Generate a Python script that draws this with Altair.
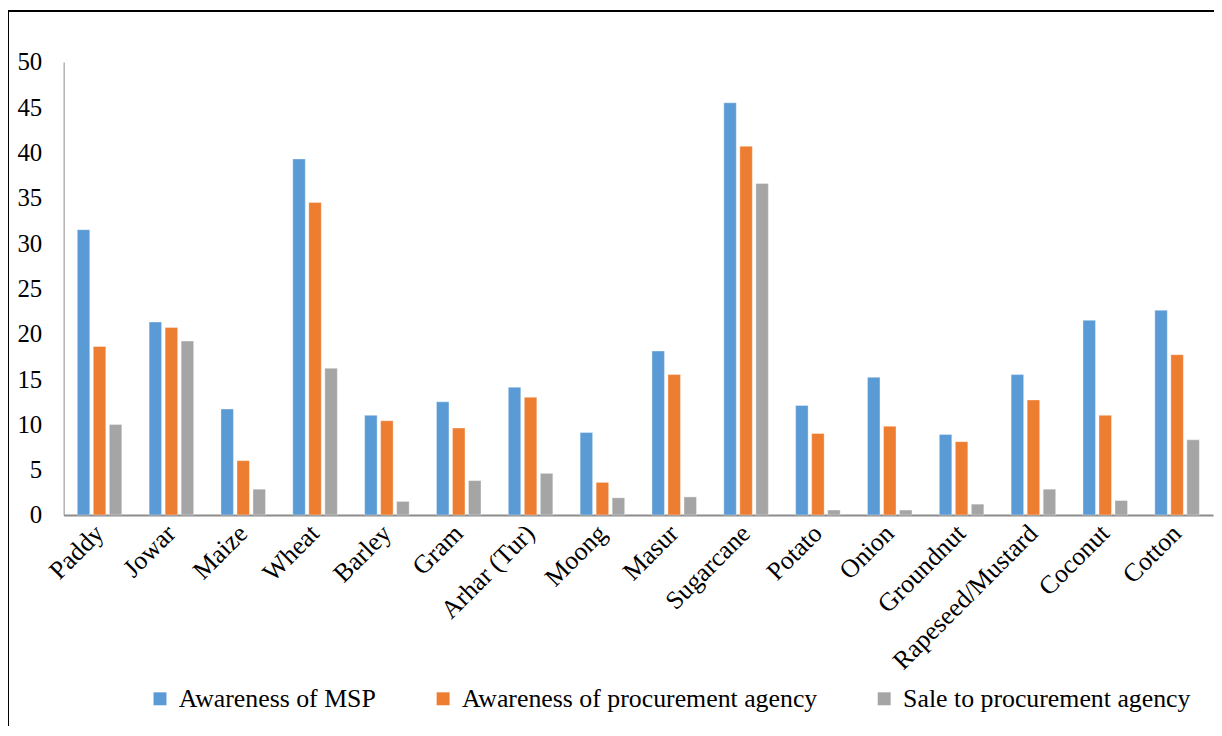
import altair as alt
import pandas as pd

crops = ["Paddy", "Jowar", "Maize", "Wheat", "Barley", "Gram", "Arhar (Tur)", "Moong",
         "Masur", "Sugarcane", "Potato", "Onion", "Groundnut", "Rapeseed/Mustard",
         "Coconut", "Cotton"]
series = ["Awareness of MSP", "Awareness of procurement agency", "Sale to procurement agency"]
msp = [31.5, 21.3, 11.7, 39.3, 11.0, 12.5, 14.1, 9.1, 18.1, 45.5, 12.1, 15.2, 8.9, 15.5, 21.5, 22.6]
agency = [18.6, 20.7, 6.0, 34.5, 10.4, 9.6, 13.0, 3.6, 15.5, 40.7, 9.0, 9.8, 8.1, 12.7, 11.0, 17.7]
sale = [10.0, 19.2, 2.85, 16.2, 1.5, 3.8, 4.6, 1.9, 2.0, 36.6, 0.55, 0.55, 1.2, 2.85, 1.6, 8.3]
colors = ["#5B9BD5", "#ED7D31", "#A5A5A5"]

rows = []
for s, vals in zip(series, [msp, agency, sale]):
    for c, v in zip(crops, vals):
        rows.append({"crop": c, "series": s, "value": v})
df = pd.DataFrame(rows)

FONT = "Liberation Serif"

bars = alt.Chart(df).mark_bar(stroke="white", strokeWidth=0.6, strokeOpacity=0.6).encode(
    x=alt.X("crop:N", sort=crops, title=None,
            scale=alt.Scale(paddingInner=0.38, paddingOuter=0.19),
            axis=alt.Axis(labelAngle=-45, labelAlign="right", labelBaseline="middle",
                          labelFontSize=26, labelFont=FONT, labelColor="#000",
                          labelLimit=400,
                          ticks=False, domainColor="#8c8c8c", domainWidth=2,
                          labelPadding=14)),
    xOffset=alt.XOffset("series:N", sort=series, scale=alt.Scale(paddingInner=0.22)),
    y=alt.Y("value:Q", title=None,
            scale=alt.Scale(domain=[0, 50]),
            axis=alt.Axis(values=list(range(0, 51, 5)), grid=False, ticks=False,
                          labelFontSize=25, labelFont=FONT, labelColor="#000",
                          domainColor="#8c8c8c", labelPadding=22)),
    color=alt.Color("series:N", sort=series, title=None,
                    scale=alt.Scale(domain=series, range=colors),
                    legend=alt.Legend(orient="none", direction="horizontal",
                                      legendX=84, legendY=628,
                                      symbolType="square", symbolSize=170,
                                      symbolStrokeWidth=0,
                                      labelFontSize=26, labelFont=FONT, labelColor="#000",
                                      labelOffset=6, columnPadding=54,
                                      labelLimit=500)),
)

frame_top = alt.Chart(df).mark_rule(stroke="#000", strokeWidth=1).encode(
    x=alt.value(-56), x2=alt.value(1160), y=alt.value(-51.5)
)
frame_left = alt.Chart(df).mark_rule(stroke="#000", strokeWidth=1).encode(
    x=alt.value(-55.5), y=alt.value(-52), y2=alt.value(670)
)

chart = alt.layer(bars, frame_top, frame_left).properties(
    width=1157, height=456,
    background="white",
    autosize=alt.AutoSizeParams(type="none"),
    padding={"left": 56, "top": 52, "right": 1, "bottom": 210},
).configure_view(stroke=None)

chart.save("out.html", embed_options={"renderer": "svg", "actions": False})
